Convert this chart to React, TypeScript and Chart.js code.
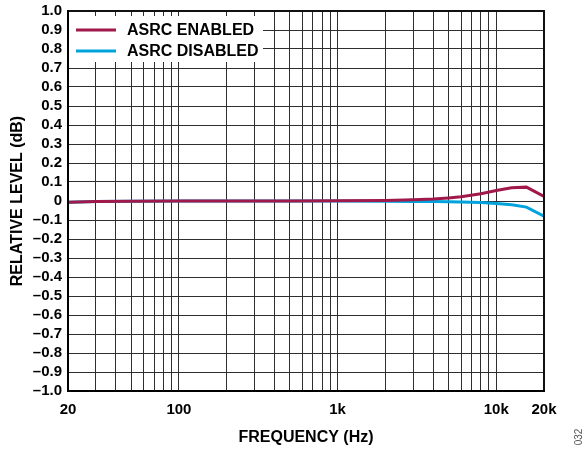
import React, { useEffect, useRef } from 'react';
import { Chart, registerables } from 'chart.js';

Chart.register(...registerables);

const frequencies = [20, 30, 50, 100, 200, 500, 1000, 2000, 3000, 4000, 5000, 6000, 8000, 10000, 12500, 15500, 20000];
const asrcEnabled = [-0.006, -0.003, -0.001, 0, 0, 0, 0.001, 0.003, 0.006, 0.01, 0.016, 0.022, 0.038, 0.055, 0.07, 0.073, 0.024];
const asrcDisabled = [-0.006, -0.003, -0.001, 0, 0, 0, 0, -0.001, -0.002, -0.003, -0.004, -0.005, -0.008, -0.013, -0.02, -0.032, -0.08];

const xGridValues = [20, 30, 40, 50, 60, 70, 80, 90, 100, 200, 300, 400, 500, 600, 700, 800, 900, 1000, 2000, 3000, 4000, 5000, 6000, 7000, 8000, 9000, 10000, 20000];
const xTickLabels: Record<number, string> = { 20: '20', 100: '100', 1000: '1k', 10000: '10k', 20000: '20k' };
const yTickValues = [-1.0, -0.9, -0.8, -0.7, -0.6, -0.5, -0.4, -0.3, -0.2, -0.1, 0, 0.1, 0.2, 0.3, 0.4, 0.5, 0.6, 0.7, 0.8, 0.9, 1.0];

const seriesNames = ['ASRC ENABLED', 'ASRC DISABLED'];
const seriesColors = ['#a1194a', '#00a3dc'];

const FONT = 'Arial, "Liberation Sans", Helvetica, sans-serif';

const fmtY = (v: number) => {
  if (Math.abs(v) < 1e-9) return '0';
  return (v < 0 ? '\u2013' : '') + Math.abs(v).toFixed(1);
};

const decorPlugin = {
  id: 'decor',
  afterDraw(chart: any) {
    const { ctx, chartArea } = chart;
    const { left, right, top, bottom } = chartArea;
    ctx.save();
    // legend box
    ctx.fillStyle = '#ffffff';
    ctx.fillRect(left + 1, 16, 194, 46);
    const ys = [30, 51];
    seriesNames.forEach((name, i) => {
      ctx.strokeStyle = seriesColors[i];
      ctx.lineWidth = 3;
      ctx.beginPath();
      ctx.moveTo(76, ys[i]);
      ctx.lineTo(116, ys[i]);
      ctx.stroke();
      ctx.fillStyle = '#000';
      ctx.font = `bold 16px ${FONT}`;
      ctx.textBaseline = 'middle';
      ctx.textAlign = 'left';
      ctx.fillText(name, 127, ys[i] + 1);
    });
    // frame
    ctx.strokeStyle = '#111';
    ctx.lineWidth = 2;
    ctx.beginPath();
    ctx.moveTo(left, top);
    ctx.lineTo(right, top);
    ctx.lineTo(right, bottom);
    ctx.stroke();
    ctx.strokeStyle = '#000';
    ctx.beginPath();
    ctx.moveTo(left, top - 1);
    ctx.lineTo(left, bottom);
    ctx.lineTo(right + 1, bottom);
    ctx.stroke();
    // figure id
    ctx.translate(579, 437);
    ctx.rotate(-Math.PI / 2);
    ctx.fillStyle = '#555';
    ctx.font = `10px ${FONT}`;
    ctx.textAlign = 'center';
    ctx.textBaseline = 'middle';
    ctx.fillText('032', 0, 0);
    ctx.restore();
  },
};

export default function App() {
  const ref = useRef<HTMLCanvasElement | null>(null);
  useEffect(() => {
    if (!ref.current) return;
    const chart = new Chart(ref.current, {
      type: 'line',
      data: {
        datasets: seriesNames.map((name, i) => ({
          label: name,
          data: frequencies.map((f, j) => ({ x: f, y: (i === 0 ? asrcEnabled : asrcDisabled)[j] })),
          borderColor: seriesColors[i],
          backgroundColor: seriesColors[i],
          borderWidth: 3,
          pointRadius: 0,
          tension: 0,
        })),
      },
      options: {
        responsive: false,
        animation: false,
        devicePixelRatio: 1,
        layout: { padding: { top: 11, right: 41, left: 0, bottom: 0 } },
        plugins: { legend: { display: false }, tooltip: { enabled: false } },
        scales: {
          x: {
            type: 'logarithmic',
            min: 20,
            max: 20000,
            afterBuildTicks: (s: any) => { s.ticks = xGridValues.map((v) => ({ value: v })); },
            afterFit: (s: any) => { s.height = 58; s.paddingLeft = 0; s.paddingRight = 0; },
            ticks: {
              autoSkip: false,
              maxRotation: 0,
              minRotation: 0,
              padding: 10,
              color: '#000',
              font: { family: FONT, size: 15, weight: 'bold' },
              callback: (v: any) => xTickLabels[Number(v)] ?? '',
            },
            grid: { color: '#2e2e2e', lineWidth: 1, drawTicks: false },
            border: { display: false },
            title: {
              display: true,
              text: 'FREQUENCY (Hz)',
              color: '#000',
              font: { family: FONT, size: 16, weight: 'bold' },
              padding: { top: 0, bottom: 2 },
            },
          },
          y: {
            type: 'linear',
            min: -1,
            max: 1,
            afterBuildTicks: (s: any) => { s.ticks = yTickValues.map((v) => ({ value: v })); },
            afterFit: (s: any) => { s.width = 68; s.paddingTop = 0; s.paddingBottom = 0; },
            ticks: {
              autoSkip: false,
              padding: 6,
              color: '#000',
              font: { family: FONT, size: 15, weight: 'bold' },
              callback: (v: any) => fmtY(Number(v)),
            },
            grid: { color: '#2e2e2e', lineWidth: 1, drawTicks: false },
            border: { display: false },
            title: {
              display: true,
              text: 'RELATIVE LEVEL (dB)',
              color: '#000',
              font: { family: FONT, size: 16, weight: 'bold' },
              padding: { top: 8, bottom: 0 },
            },
          },
        },
      },
      plugins: [decorPlugin],
    } as any);
    return () => chart.destroy();
  }, []);
  return (
    <div style={{ position: 'fixed', left: 0, top: 0, width: 585, height: 449, background: '#fff' }}>
      <canvas ref={ref} width={585} height={449} />
    </div>
  );
}
